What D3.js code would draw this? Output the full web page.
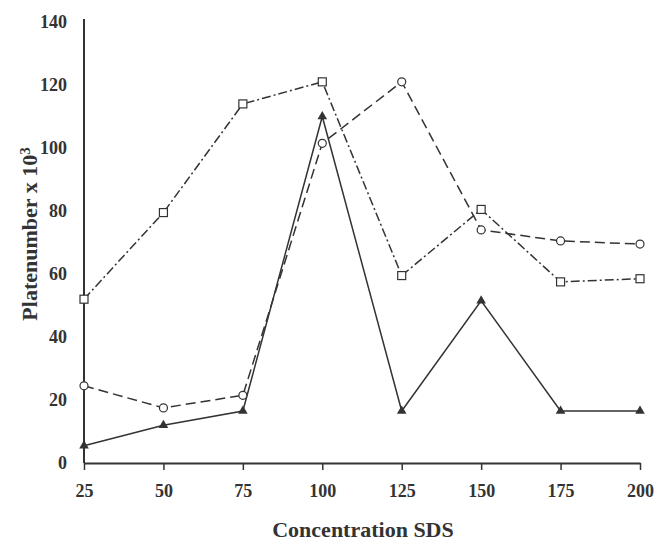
<html>
<script src="https://d3js.org/d3.v7.min.js"></script>
<style>
body {margin: 0; background: #fff;}
text {font-family: "Liberation Serif", "Times New Roman", serif; font-weight: bold; fill: #333;}
</style>
<body>
<svg id="chart" width="654" height="543"></svg>
<script>
// concentrations (x)
var conc = [25, 50, 75, 100, 125, 150, 175, 200];
// plate numbers x 10^3
var triangleSeries = [5.5, 12, 16.5, 110, 16.5, 51.5, 16.5, 16.5];
var circleSeries = [24.5, 17.5, 21.5, 101.5, 121, 74, 70.5, 69.5];
var squareSeries = [52, 79.5, 114, 121, 59.5, 80.5, 57.5, 58.5];
var yTicks = [0, 20, 40, 60, 80, 100, 120, 140];

var svg = d3.select("#chart");
var ink = "#333";

var x = d3.scaleLinear().domain([25, 200]).range([84, 640]);
var y = d3.scaleLinear().domain([0, 140]).range([463, 22]);

// x axis
var xAxis = d3.axisBottom(x).tickValues(conc).tickSize(7).tickPadding(13).tickSizeOuter(0);
var gx = svg.append("g").attr("transform", "translate(0,463)").call(xAxis);
gx.select(".domain").attr("stroke", ink).attr("stroke-width", 2);
gx.selectAll(".tick line").attr("stroke", ink).attr("stroke-width", 1.5);
gx.selectAll(".tick text").style("font-size", "18px").attr("fill", ink).attr("dy", "0.75em");

// y axis, no tick marks
var yAxis = d3.axisLeft(y).tickValues(yTicks).tickSize(0).tickPadding(17);
var gy = svg.append("g").attr("transform", "translate(84,0)").call(yAxis);
gy.select(".domain").attr("stroke", ink).attr("stroke-width", 2).attr("d", "M0,19V463");
gy.selectAll(".tick text").style("font-size", "18px").attr("fill", ink);

// axis titles
svg.append("text")
  .attr("x", 363).attr("y", 537)
  .attr("text-anchor", "middle")
  .style("font-size", "22px")
  .text("Concentration SDS");

var yt = svg.append("text")
  .attr("transform", "translate(37,234) rotate(-90)")
  .attr("text-anchor", "middle")
  .style("font-size", "22px");
yt.append("tspan").text("Platenumber x 10");
yt.append("tspan").attr("dy", "-0.5em").style("font-size", "15px").text("3");

var line = d3.line().x(function(d, i) { return x(conc[i]); }).y(function(d) { return y(d); });

function drawLine(data, dash) {
  svg.append("path")
    .datum(data)
    .attr("d", line)
    .attr("fill", "none")
    .attr("stroke", ink)
    .attr("stroke-width", 1.5)
    .attr("stroke-dasharray", dash);
}

drawLine(squareSeries, "9,3,2,3");
drawLine(circleSeries, "10,5");
drawLine(triangleSeries, null);

// markers
svg.append("g").selectAll("rect")
  .data(squareSeries).enter().append("rect")
  .attr("x", function(d, i) { return x(conc[i]) - 4; })
  .attr("y", function(d) { return y(d) - 4; })
  .attr("width", 8).attr("height", 8)
  .attr("fill", "#fff").attr("stroke", ink).attr("stroke-width", 1.2);

svg.append("g").selectAll("circle")
  .data(circleSeries).enter().append("circle")
  .attr("cx", function(d, i) { return x(conc[i]); })
  .attr("cy", function(d) { return y(d); })
  .attr("r", 4)
  .attr("fill", "#fff").attr("stroke", ink).attr("stroke-width", 1.2);

var tri = d3.symbol().type(d3.symbolTriangle).size(40);
svg.append("g").selectAll("path")
  .data(triangleSeries).enter().append("path")
  .attr("d", tri)
  .attr("transform", function(d, i) { return "translate(" + x(conc[i]) + "," + y(d) + ")"; })
  .attr("fill", ink);
</script>
</body>
</html>
